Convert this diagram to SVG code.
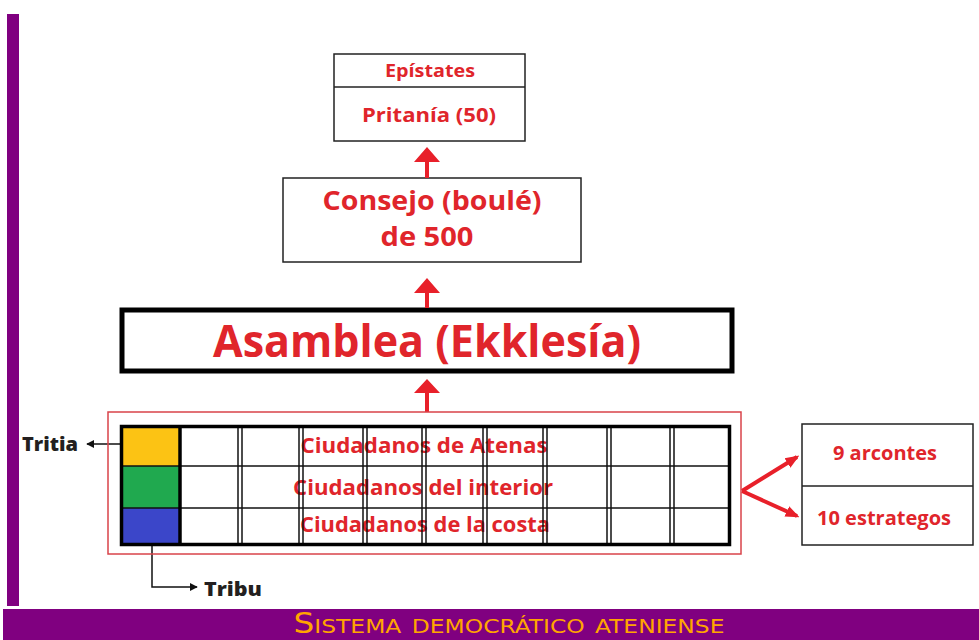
<svg xmlns="http://www.w3.org/2000/svg" width="979" height="640" viewBox="0 0 979 640">
<defs>
<style>
.box{fill:#fff;stroke:#222;stroke-width:1.5}
.rt{font-family:"Open Sans",Lato,"Liberation Sans",sans-serif;font-weight:700;fill:#e0252b;text-anchor:middle}
.bt{font-family:"Open Sans",Lato,"Liberation Sans",sans-serif;font-weight:800;fill:#231f20}
.grid{stroke:#111;stroke-width:1.5;fill:none}
.up{fill:#e8202a}
</style>
<marker id="ah" viewBox="0 0 10 10" refX="9" refY="5" markerWidth="8" markerHeight="8" orient="auto" markerUnits="userSpaceOnUse">
<path d="M0,0 L10,5 L0,10 z" fill="#111"/>
</marker>
<marker id="rh" viewBox="0 0 10 10" refX="8" refY="5" markerWidth="14" markerHeight="14" orient="auto" markerUnits="userSpaceOnUse">
<path d="M0,1 L10,5 L0,9 z" fill="#e8202a"/>
</marker>
</defs>
<rect width="979" height="640" fill="#fff"/>
<rect x="7" y="14" width="12" height="592" fill="#800080"/>
<rect x="3" y="609" width="976" height="31" fill="#800080"/>
<text x="509" y="633" text-anchor="middle" font-family="'DejaVu Sans Condensed','Liberation Sans Narrow','DejaVu Sans',sans-serif" font-size="28" fill="#ffa500" font-variant="small-caps" textLength="431" lengthAdjust="spacingAndGlyphs">Sistema democrático ateniense</text>

<g id="epistates">
<rect class="box" x="334" y="54" width="191" height="87"/>
<line x1="334" y1="87" x2="525" y2="87" stroke="#222" stroke-width="1.5"/>
<text class="rt" x="430" y="77" font-size="18" textLength="90" lengthAdjust="spacingAndGlyphs">Epístates</text>
<text class="rt" x="429" y="122" font-size="20" textLength="134" lengthAdjust="spacingAndGlyphs">Pritanía (50)</text>
</g>
<g id="consejo">
<rect class="box" x="283" y="178" width="298" height="84"/>
<text class="rt" x="432" y="210" font-size="27" textLength="219" lengthAdjust="spacingAndGlyphs">Consejo (boulé)</text>
<text class="rt" x="427" y="246" font-size="27" textLength="93" lengthAdjust="spacingAndGlyphs">de 500</text>
</g>
<g id="asamblea">
<rect x="122" y="310" width="610" height="61" fill="#fff" stroke="#000" stroke-width="5"/>
<text class="rt" x="427" y="357" font-size="45" textLength="428" lengthAdjust="spacingAndGlyphs">Asamblea (Ekklesía)</text>
</g>

<g id="connectors">
<path class="up" d="M425,162 h4 v16 h-4 z M414,162 L427,147 L440,162 z"/>
<path class="up" d="M425,293 h4 v15 h-4 z M414,293 L427,278 L440,293 z"/>
<path class="up" d="M425,393 h4 v19 h-4 z M414,393 L427,379 L440,393 z"/>
<line x1="120" y1="444" x2="87" y2="444" stroke="#111" stroke-width="1.5" marker-end="url(#ah)"/>
<polyline points="152,546 152,587 197,587" fill="none" stroke="#111" stroke-width="1.5" marker-end="url(#ah)"/>
<line x1="742" y1="491" x2="797" y2="457" stroke="#e8202a" stroke-width="4" marker-end="url(#rh)"/>
<line x1="742" y1="491" x2="797" y2="516" stroke="#e8202a" stroke-width="4" marker-end="url(#rh)"/>
</g>

<g id="ciudadanos">
<rect x="108" y="412" width="633" height="142" fill="none" stroke="#d9434a" stroke-width="1.5"/>
<rect x="120" y="425" width="60" height="41" fill="#fcc314"/>
<rect x="120" y="466" width="60" height="42" fill="#20a94f"/>
<rect x="120" y="508" width="60" height="37" fill="#3b46c9"/>
<text class="rt" x="424" y="453" font-size="21" textLength="247" lengthAdjust="spacingAndGlyphs">Ciudadanos de Atenas</text>
<text class="rt" x="423" y="495" font-size="21" textLength="260" lengthAdjust="spacingAndGlyphs">Ciudadanos del interior</text>
<text class="rt" x="425" y="532" font-size="21" textLength="250" lengthAdjust="spacingAndGlyphs">Ciudadanos de la costa</text>
<g class="grid">
<line x1="120" y1="466" x2="731" y2="466"/>
<line x1="120" y1="508" x2="731" y2="508"/>
<line x1="238" y1="425" x2="238" y2="545"/><line x1="242" y1="425" x2="242" y2="545"/>
<line x1="299" y1="425" x2="299" y2="545"/><line x1="303" y1="425" x2="303" y2="545"/>
<line x1="363" y1="425" x2="363" y2="545"/><line x1="367" y1="425" x2="367" y2="545"/>
<line x1="422" y1="425" x2="422" y2="545"/><line x1="426" y1="425" x2="426" y2="545"/>
<line x1="483" y1="425" x2="483" y2="545"/><line x1="487" y1="425" x2="487" y2="545"/>
<line x1="543" y1="425" x2="543" y2="545"/><line x1="547" y1="425" x2="547" y2="545"/>
<line x1="607" y1="425" x2="607" y2="545"/><line x1="611" y1="425" x2="611" y2="545"/>
<line x1="670" y1="425" x2="670" y2="545"/><line x1="674" y1="425" x2="674" y2="545"/>
</g>
<line x1="180" y1="425" x2="180" y2="545" stroke="#000" stroke-width="3.5"/>
<rect x="121.5" y="426.5" width="608" height="118" fill="none" stroke="#000" stroke-width="3.5"/>
</g>

<g id="tritia">
<text class="bt" x="22" y="451" font-size="20" textLength="56" lengthAdjust="spacingAndGlyphs">Tritia</text>
</g>
<g id="tribu">
<text class="bt" x="204" y="596" font-size="20" textLength="58" lengthAdjust="spacingAndGlyphs">Tribu</text>
</g>
<g id="magistrados">
<rect class="box" x="802" y="424" width="171" height="121"/>
<line x1="802" y1="486" x2="973" y2="486" stroke="#222" stroke-width="1.5"/>
<text class="rt" x="885" y="460" font-size="19" textLength="104" lengthAdjust="spacingAndGlyphs">9 arcontes</text>
<text class="rt" x="884" y="525" font-size="19" textLength="134" lengthAdjust="spacingAndGlyphs">10 estrategos</text>
</g>
</svg>
